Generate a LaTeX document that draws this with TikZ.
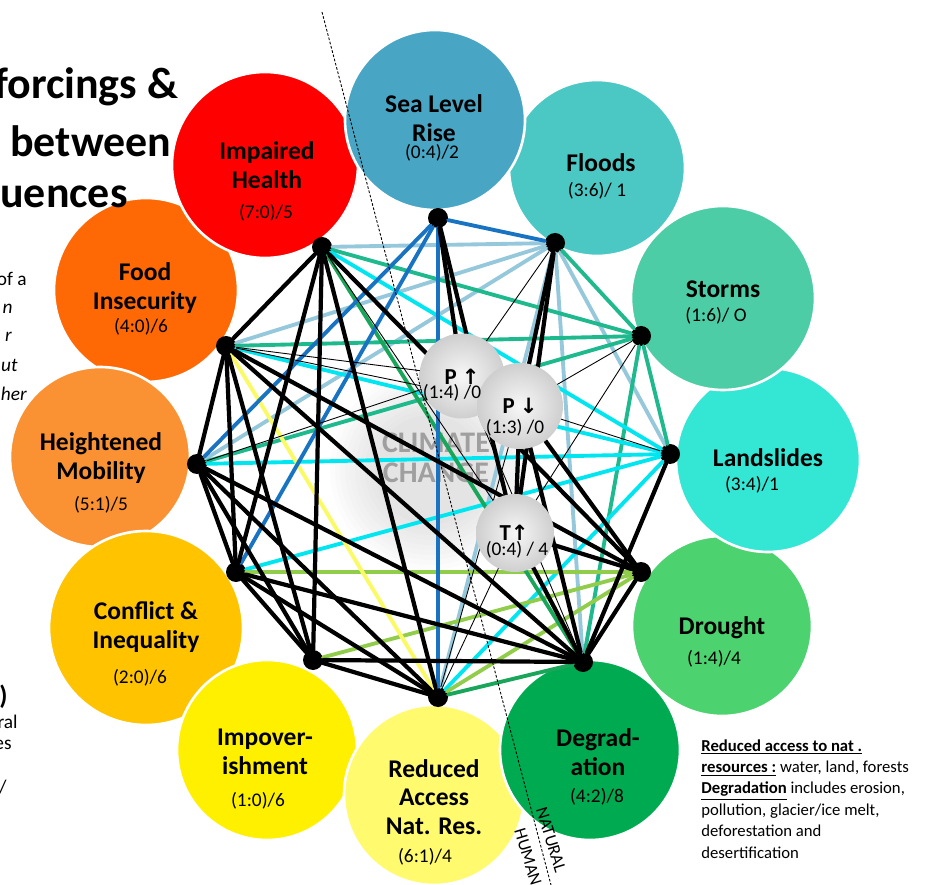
\documentclass[tikz,border=0pt]{standalone}
\usepackage{fontspec}
\setmainfont{Carlito}
\newfontfamily\arrowfont{DejaVu Sans}

% Farben der Kreise
\definecolor{slrC}{RGB}{72,165,196}
\definecolor{floodC}{RGB}{76,200,196}
\definecolor{stormC}{RGB}{76,205,165}
\definecolor{slideC}{RGB}{52,230,212}
\definecolor{droughtC}{RGB}{76,210,110}
\definecolor{degrC}{RGB}{0,170,80}
\definecolor{accessC}{RGB}{255,250,110}
\definecolor{impovC}{RGB}{255,240,0}
\definecolor{conflictC}{RGB}{255,195,0}
\definecolor{mobilC}{RGB}{250,145,50}
\definecolor{foodC}{RGB}{255,105,5}
\definecolor{healthC}{RGB}{255,0,0}
% Farben der Verbindungen
\definecolor{eSlr}{RGB}{25,115,195}
\definecolor{eFlood}{RGB}{150,200,220}
\definecolor{eStorm}{RGB}{30,185,140}
\definecolor{eSlide}{RGB}{0,230,240}
\definecolor{eDrought}{RGB}{145,205,75}
\definecolor{eDegr}{RGB}{25,165,90}
\definecolor{eFood}{RGB}{250,250,100}

\begin{document}
\begin{tikzpicture}[
    x=0.2mm, y=-0.2mm,
    bubble/.style = {circle, draw=white, line width=1.5pt, fill=#1, inner sep=0pt},
    dot/.style    = {circle, fill=black, inner sep=0pt, minimum size=4mm},
    clim/.style   = {circle, inner color=gray!6, outer color=gray!38, inner sep=0pt, minimum size=#1},
    ttl/.style    = {align=center, font=\fontsize{14.5}{16.2}\selectfont\bfseries, inner sep=0pt},
    num/.style    = {font=\fontsize{11}{13}\selectfont, inner sep=0pt},
    frag/.style   = {font=\fontsize{11}{13}\selectfont\itshape, inner sep=0pt, anchor=base east},
    hum/.style    = {line width=2.4pt, line cap=round},
    nat/.style    = {line width=2.2pt, line cap=round, draw=#1},
    thin/.style   = {line width=0.5pt},
  ]
  \useasboundingbox (0,0) rectangle (925,885);

  % Kreise
  \node[bubble=foodC, minimum size=36.8mm] (foodB) at (146,290) {};
  \node[bubble=mobilC, minimum size=36mm] (mobilB) at (100,457) {};
  \node[bubble=conflictC, minimum size=38.8mm] (conflictB) at (146,628) {};
  \node[bubble=impovC, minimum size=36mm] (impovB) at (267,750) {};
  \node[bubble=accessC, minimum size=36mm] (accessB) at (434,795) {};
  \node[bubble=degrC, minimum size=36mm] (degrB) at (590,750) {};
  \node[bubble=droughtC, minimum size=36mm] (droughtB) at (722,626) {};
  \node[bubble=slideC, minimum size=36.8mm] (slideB) at (768,460) {};
  \node[bubble=floodC, minimum size=35.2mm] (floodB) at (597,168) {};
  \node[bubble=stormC, minimum size=36.8mm] (stormB) at (723,298) {};
  \node[bubble=healthC, minimum size=37.2mm] (healthB) at (265,165) {};
  \node[bubble=slrC, minimum size=36mm] (slrB) at (435,120) {};

  % Titel (links abgeschnitten)
  \node[font=\fontsize{25}{29}\selectfont\bfseries, inner sep=0pt, anchor=base west] (title1) at (-6,99) {forcings \&};
  \node[font=\fontsize{25}{29}\selectfont\bfseries, inner sep=0pt, anchor=base west] (title2) at (10,157) {between};
  \node[font=\fontsize{25}{29}\selectfont\bfseries, inner sep=0pt, anchor=base west] (title3) at (0,208) {uences};
  \node[frag, font=\fontsize{11}{13}\selectfont] (f1) at (27,286) {of a};
  \node[frag] (f2) at (13,314) {n};
  \node[frag] (f3) at (12,342) {r};
  \node[frag] (f4) at (18,372) {ut};
  \node[frag] (f5) at (27,401) {her};
  \node[frag, font=\fontsize{15}{17}\selectfont\bfseries] (f6) at (8,704) {)};
  \node[frag, font=\fontsize{11}{13}\selectfont] (f7) at (18,728) {ral};
  \node[frag, font=\fontsize{11}{13}\selectfont] (f8) at (12,749) {es};
  \node[frag, font=\fontsize{11}{13}\selectfont] (f9) at (7,793) {/};

  % Klimawandel im Hintergrund
  \foreach \r in {100,95,...,55}
    \fill[gray, opacity=0.025] (430,470) circle (\r);
  \node[font=\fontsize{17}{17}\selectfont\bfseries, text=gray!75, align=center] (ccT) at (436,458) {CLIMATE\\CHANGE};

  % Knotenpunkte
  \node[dot] (slr) at (438,218) {};
  \node[dot] (flood) at (555,243) {};
  \node[dot] (storm) at (641,336) {};
  \node[dot] (slide) at (670,454) {};
  \node[dot] (drought) at (641,572) {};
  \node[dot] (degr) at (583,662) {};
  \node[dot] (access) at (438,697) {};
  \node[dot] (impov) at (313,660) {};
  \node[dot] (conflict) at (236,572) {};
  \node[dot] (mobil) at (197,464) {};
  \node[dot] (food) at (226,346) {};
  \node[dot] (health) at (322,247) {};
  \coordinate (pup) at (462,376);
  \coordinate (pdown) at (520,406);
  \coordinate (tup) at (515,533);

  % farbige Verbindungen
  \foreach \a/\b in {flood/health, flood/food, flood/mobil, flood/access, flood/degr, flood/slide}
    \draw[nat=eFlood] (\a) -- (\b);
  \foreach \a/\b in {storm/health, storm/flood, storm/food, storm/mobil, storm/slide, storm/degr}
    \draw[nat=eStorm] (\a) -- (\b);
  \foreach \a/\b in {slide/health, slide/food, slide/mobil, slide/conflict, slide/access}
    \draw[nat=eSlide] (\a) -- (\b);
  \foreach \a/\b in {drought/conflict, drought/impov, drought/access}
    \draw[nat=eDrought] (\a) -- (\b);
  \foreach \a/\b in {degr/access, degr/health}
    \draw[nat=eDegr] (\a) -- (\b);
  \draw[nat=eFood] (food) -- (access);
  \foreach \a/\b in {slr/flood, slr/mobil, slr/conflict, slr/access}
    \draw[nat=eSlr] (\a) -- (\b);

  % schwarze Verbindungen
  \foreach \a/\b in {health/food, health/conflict, health/impov, health/access, health/drought,
                     food/mobil, food/conflict, food/impov, food/degr, food/drought,
                     mobil/conflict, mobil/impov, mobil/access, mobil/degr,
                     conflict/impov, conflict/access, conflict/degr,
                     impov/access, impov/degr, slide/degr, drought/degr,
                     slr/pup, slr/tup, flood/pdown, flood/tup, pdown/drought,
                     pdown/degr, pdown/tup, tup/drought, tup/degr}
    \draw[hum] (\a) -- (\b);
  \foreach \a/\b in {food/pup, food/pdown, health/tup, flood/pup, storm/tup, storm/pdown,
                     slide/pdown, access/pdown, access/tup, degr/pup, mobil/pup}
    \draw[thin] (\a) -- (\b);

  % Trennlinie
  \coordinate (divTop) at (322,12);
  \coordinate (divBot) at (551,885);
  \draw[thin, dash pattern=on 1.5pt off 1pt] (divTop) -- (divBot);

  % Klimaantriebe
  \node[clim=17mm] (pupC) at (pup) {};
  \node[clim=17.2mm] (pdownC) at (pdown) {};
  \node[clim=15.6mm] (tupC) at (tup) {};
  \node[font=\fontsize{13}{14}\selectfont\bfseries, inner sep=0pt] (pupT) at (462,377) {P {\arrowfont\fontsize{12}{14}\selectfont ↑}};
  \node[num] (pupN) at (452,393) {(1:4) /0};
  \node[font=\fontsize{13}{14}\selectfont\bfseries, inner sep=0pt] (pdownT) at (520,406) {P {\arrowfont\fontsize{12}{14}\selectfont ↓}};
  \node[num] (pdownN) at (515,428) {(1:3) /0};
  \node[font=\fontsize{13}{14}\selectfont\bfseries, inner sep=0pt] (tupT) at (514,533) {T{\arrowfont\fontsize{12}{14}\selectfont ↑}};
  \node[num] (tupN) at (517,550) {(0:4) / 4};

  % Beschriftungen
  \node[ttl] (slrT) at (434,118) {Sea Level\\Rise};
  \node[num] (slrN) at (432,153) {(0:4)/2};
  \node[ttl] (floodT) at (601,163) {Floods};
  \node[num] (floodN) at (597,191) {(3:6)/ 1};
  \node[ttl] (stormT) at (723,289) {Storms};
  \node[num] (stormN) at (716,316) {(1:6)/ O};
  \node[ttl] (slideT) at (768,458) {Landslides};
  \node[num] (slideN) at (752,485) {(3:4)/1};
  \node[ttl] (droughtT) at (722,628) {Drought};
  \node[num] (droughtN) at (714,659) {(1:4)/4};
  \node[ttl] (degrT) at (598,752) {Degrad-\\ation};
  \node[num] (degrN) at (597,797) {(4:2)/8};
  \node[ttl] (accessT) at (434,797) {Reduced\\Access\\Nat. Res.};
  \node[num] (accessN) at (425,857) {(6:1)/4};
  \node[ttl] (impovT) at (265,752) {Impover-\\ishment};
  \node[num] (impovN) at (258,801) {(1:0)/6};
  \node[ttl] (conflictT) at (146,627) {Conflict \&\\Inequality};
  \node[num] (conflictN) at (140,678) {(2:0)/6};
  \node[ttl] (mobilT) at (101,458) {Heightened\\Mobility};
  \node[num] (mobilN) at (101,505) {(5:1)/5};
  \node[ttl] (foodT) at (145,288) {Food\\Insecurity};
  \node[num] (foodN) at (141,327) {(4:0)/6};
  \node[ttl] (healthT) at (267,165) {Impaired\\Health};
  \node[num] (healthN) at (266,213) {(7:0)/5};

  % Erlaeuterung und Seiten
  \node[anchor=north west, align=left, inner sep=0pt, font=\fontsize{9.5}{12.2}\selectfont] (note) at (701,739)
    {\underline{\textbf{Reduced access to nat .}}\\
     \underline{\textbf{resources :}} water, land, forests\\
     \underline{\textbf{Degradation}} includes erosion,\\
     pollution, glacier/ice melt,\\
     deforestation and\\
     desertification};
  \node[rotate=-73, font=\fontsize{10}{12}\selectfont, inner sep=0pt] (natT) at (551,840) {NATURAL};
  \node[rotate=-73, font=\fontsize{10}{12}\selectfont, inner sep=0pt] (humT) at (528,857) {HUMAN};
\end{tikzpicture}
\end{document}
